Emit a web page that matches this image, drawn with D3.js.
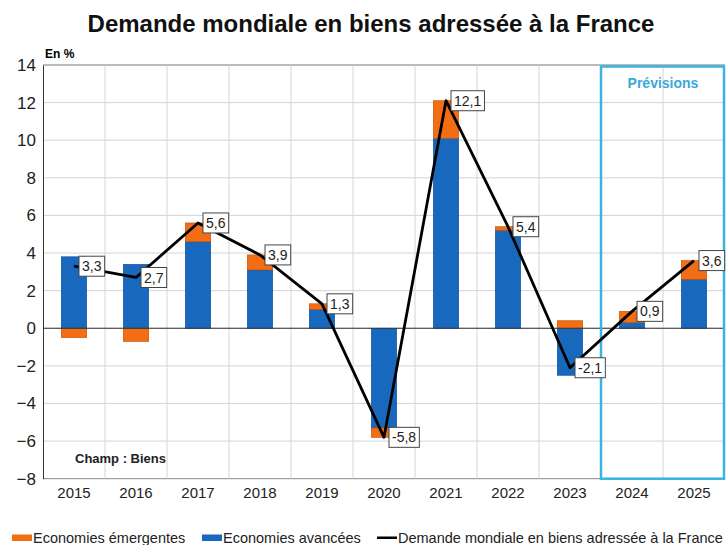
<!DOCTYPE html>
<html>
<head>
<meta charset="utf-8">
<script src="https://cdn.jsdelivr.net/npm/d3@7"></script>
<style>
  body { margin: 0; background: #fff; }
  svg { display: block; font-family: "Liberation Sans", Arial, sans-serif; }
</style>
</head>
<body>
<div id="chart"></div>
<script>
const years = ['2015', '2016', '2017', '2018', '2019', '2020', '2021', '2022', '2023', '2024', '2025'];
const avancees = [3.8, 3.4, 4.6, 3.1, 1.0, -5.3, 10.1, 5.2, -2.5, 0.3, 2.6];
const emergentes = [-0.5, -0.7, 1.0, 0.8, 0.3, -0.5, 2.0, 0.2, 0.4, 0.6, 1.0];
const demande = [3.3, 2.7, 5.6, 3.9, 1.3, -5.8, 12.1, 5.4, -2.1, 0.9, 3.6];
const yTicks = [-8, -6, -4, -2, 0, 2, 4, 6, 8, 10, 12, 14];
const previsionYears = ['2024', '2025'];

const blue = '#1868bd';
const orange = '#f26d14';
const cyan = '#39b4e0';

const width = 727, height = 545;
const margin = { top: 65, right: 2, bottom: 66.3, left: 43 };

const svg = d3.select('#chart').append('svg')
  .attr('width', width)
  .attr('height', height);

const x = d3.scaleBand()
  .domain(years)
  .range([margin.left, width - margin.right])
  .padding(0);

const y = d3.scaleLinear()
  .domain([-8, 14])
  .range([height - margin.bottom, margin.top]);

// titre
svg.append('text')
  .attr('x', 371)
  .attr('y', 32)
  .attr('text-anchor', 'middle')
  .attr('font-size', 24)
  .attr('font-weight', 'bold')
  .attr('fill', '#111')
  .text('Demande mondiale en biens adressée à la France');

svg.append('text')
  .attr('x', 45)
  .attr('y', 58)
  .attr('font-size', 12)
  .attr('font-weight', 'bold')
  .text('En %');

// grille
const grid = svg.append('g');
grid.selectAll('line.h')
  .data(yTicks)
  .join('line')
  .attr('class', 'h')
  .attr('x1', margin.left).attr('x2', width - margin.right)
  .attr('y1', d => y(d)).attr('y2', d => y(d))
  .attr('stroke', d => d === 14 ? '#777' : (d === -8 ? '#888' : '#d4d4d4'))
  .attr('stroke-width', 1);

grid.selectAll('line.v')
  .data(years.slice(1))
  .join('line')
  .attr('class', 'v')
  .attr('x1', d => x(d)).attr('x2', d => x(d))
  .attr('y1', y(14)).attr('y2', y(-8))
  .attr('stroke', '#d4d4d4');

// axes
svg.append('g')
  .attr('transform', `translate(${margin.left},0)`)
  .call(d3.axisLeft(y).tickValues(yTicks).tickSize(0).tickPadding(7).tickFormat(d3.format('d')))
  .call(g => g.select('.domain').attr('stroke', '#333'))
  .call(g => g.selectAll('text').attr('font-size', 17).attr('fill', '#222').style('font-family', 'Liberation Sans, Arial, sans-serif'));

svg.append('g')
  .attr('transform', `translate(0,${y(-8)})`)
  .call(d3.axisBottom(x).tickSize(0).tickPadding(9))
  .call(g => g.select('.domain').remove())
  .call(g => g.selectAll('text').attr('font-size', 15).attr('fill', '#222').style('font-family', 'Liberation Sans, Arial, sans-serif'));

// barres empilées (positif depuis 0, négatif depuis 0)
const barW = x.bandwidth() * 0.41;
const bars = svg.append('g');
years.forEach((yr, i) => {
  let pos = 0, neg = 0;
  [[avancees[i], blue, '#0d4e94'], [emergentes[i], orange, '#b84e0a']].forEach(([v, col, st]) => {
    let y0, y1;
    if (v >= 0) { y0 = pos; y1 = pos + v; pos = y1; }
    else { y0 = neg; y1 = neg + v; neg = y1; }
    bars.append('rect')
      .attr('x', x(yr) + x.bandwidth() / 2 - barW / 2)
      .attr('width', barW)
      .attr('y', y(Math.max(y0, y1)))
      .attr('height', Math.abs(y(y0) - y(y1)))
      .attr('fill', col)
      .attr('stroke', st)
      .attr('stroke-width', 0.6);
  });
});

// ligne zéro
svg.append('line')
  .attr('x1', margin.left).attr('x2', width - margin.right)
  .attr('y1', y(0)).attr('y2', y(0))
  .attr('stroke', '#333').attr('stroke-width', 1);

// encadré prévisions
const pvX0 = x(previsionYears[0]);
svg.append('rect')
  .attr('x', pvX0)
  .attr('y', y(14) + 1.5)
  .attr('width', width - margin.right - pvX0 - 1)
  .attr('height', y(-8) - y(14) - 1.5)
  .attr('fill', 'none')
  .attr('stroke', cyan)
  .attr('stroke-width', 2.5);

svg.append('text')
  .attr('x', pvX0 + (width - margin.right - pvX0) / 2)
  .attr('y', 88)
  .attr('text-anchor', 'middle')
  .attr('font-size', 14)
  .attr('font-weight', 'bold')
  .attr('fill', '#3aa8d8')
  .text('Prévisions');

svg.append('text')
  .attr('x', 75)
  .attr('y', 463)
  .attr('font-size', 13)
  .attr('font-weight', 'bold')
  .attr('fill', '#222')
  .text('Champ : Biens');

// courbe demande mondiale
const pts = years.map((yr, i) => [x(yr) + x.bandwidth() / 2, y(demande[i]), demande[i]]);
svg.append('path')
  .datum(pts)
  .attr('fill', 'none')
  .attr('stroke', '#000')
  .attr('stroke-width', 2.8)
  .attr('stroke-linejoin', 'round')
  .attr('d', d3.line().x(d => d[0]).y(d => d[1]));

const fmt = v => d3.format('.1f')(v).replace('.', ',').replace('−', '-');
const lab = svg.append('g').selectAll('g')
  .data(pts)
  .join('g')
  .attr('transform', d => `translate(${d[0] + 5},${d[1]})`);

lab.append('text')
  .attr('x', 3)
  .attr('dy', '0.36em')
  .attr('font-size', 14)
  .attr('fill', '#222')
  .text(d => fmt(d[2]));

lab.each(function () {
  const g = d3.select(this);
  const bb = g.select('text').node().getBBox();
  g.insert('rect', 'text')
    .attr('x', 0)
    .attr('y', -10)
    .attr('width', bb.width + 6)
    .attr('height', 20)
    .attr('fill', '#fff')
    .attr('stroke', '#444')
    .attr('stroke-width', 1);
});

// légende
const legend = svg.append('g').attr('font-size', 14.5).attr('fill', '#222');
const legItems = [
  { label: 'Economies émergentes', x: 12, type: 'rect', color: orange },
  { label: 'Economies avancées', x: 202, type: 'rect', color: blue },
  { label: 'Demande mondiale en biens adressée à la France', x: 377, type: 'line', color: '#000' },
];
legItems.forEach(it => {
  if (it.type === 'rect') {
    legend.append('rect').attr('x', it.x).attr('y', 534.5).attr('width', 20).attr('height', 6.5).attr('fill', it.color);
  } else {
    legend.append('rect').attr('x', it.x).attr('y', 536.5).attr('width', 20).attr('height', 2.5).attr('fill', it.color);
  }
  legend.append('text').attr('x', it.x + 21).attr('y', 543).text(it.label);
});
</script>
</body>
</html>
